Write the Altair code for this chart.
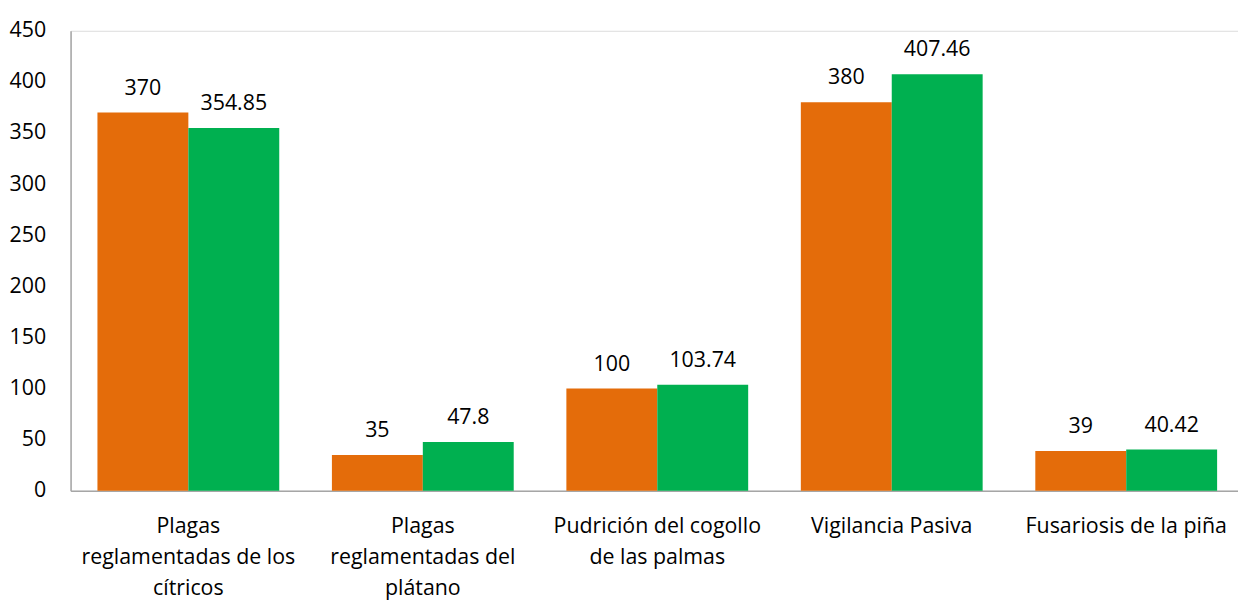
import altair as alt
import pandas as pd

categories = [
    "Plagas reglamentadas de los cítricos",
    "Plagas reglamentadas del plátano",
    "Pudrición del cogollo de las palmas",
    "Vigilancia Pasiva",
    "Fusariosis de la piña",
]
label_lines = [
    ["Plagas", "reglamentadas de los", "cítricos"],
    ["Plagas", "reglamentadas del", "plátano"],
    ["Pudrición del cogollo", "de las palmas"],
    ["Vigilancia Pasiva"],
    ["Fusariosis de la piña"],
]
series = ["Serie 1", "Serie 2"]
values_1 = [370, 35, 100, 380, 39]
values_2 = [354.85, 47.8, 103.74, 407.46, 40.42]
value_text_1 = ["370", "35", "100", "380", "39"]
value_text_2 = ["354.85", "47.8", "103.74", "407.46", "40.42"]
colors = ["#E46C0A", "#00B050"]

rows = []
for c, v, t in zip(categories, values_1, value_text_1):
    rows.append({"cat": c, "serie": series[0], "val": v, "txt": t})
for c, v, t in zip(categories, values_2, value_text_2):
    rows.append({"cat": c, "serie": series[1], "val": v, "txt": t})
df = pd.DataFrame(rows)

parts = []
for c, lines in zip(categories, label_lines):
    arr = "[" + ",".join("'" + l + "'" for l in lines) + "]"
    parts.append(f"datum.label == '{c}' ? {arr}")
label_expr = " : ".join(parts) + " : datum.label"

FONT = "Open Sans"
FS = 21.5

x = alt.X("cat:N", sort=categories,
          scale=alt.Scale(paddingInner=0.2246, paddingOuter=0.1018, align=0.5625),
          axis=alt.Axis(title=None, labelAngle=0, labelExpr=label_expr,
                        labelFont=FONT, labelFontSize=FS, labelColor="#000000",
                        labelLineHeight=31, labelPadding=25, labelBaseline="top",
                        ticks=False, domainColor="#A6A6A6", domainWidth=1.5,
                        labelLimit=0))
y = alt.Y("val:Q",
          scale=alt.Scale(domain=[0, 450], nice=False),
          axis=alt.Axis(title=None, values=list(range(0, 451, 50)), grid=False,
                        ticks=False, labelFont=FONT, labelFontSize=FS,
                        labelColor="#000000", labelPadding=25,
                        domainColor="#A6A6A6", domainWidth=1.5))

base = alt.Chart(df).encode(
    x=x,
    xOffset=alt.XOffset("serie:N", sort=series),
)

bars = base.mark_bar().encode(
    y=y,
    color=alt.Color("serie:N", sort=series,
                    scale=alt.Scale(domain=series, range=colors), legend=None),
)

text = base.mark_text(dy=-18, baseline="alphabetic", font=FONT, fontSize=FS,
                      color="#000000").encode(
    y=alt.Y("val:Q", scale=alt.Scale(domain=[0, 450], nice=False)),
    text="txt:N",
)

chart = (bars + text).properties(
    width=1175, height=463,
    autosize=alt.AutoSizeParams(type="none"),
    padding={"left": 63, "top": 21, "right": 0, "bottom": 112},
).configure_view(stroke=None).configure(background="#FFFFFF")

chart.save("out.html", embed_options={"renderer": "svg", "actions": False})
